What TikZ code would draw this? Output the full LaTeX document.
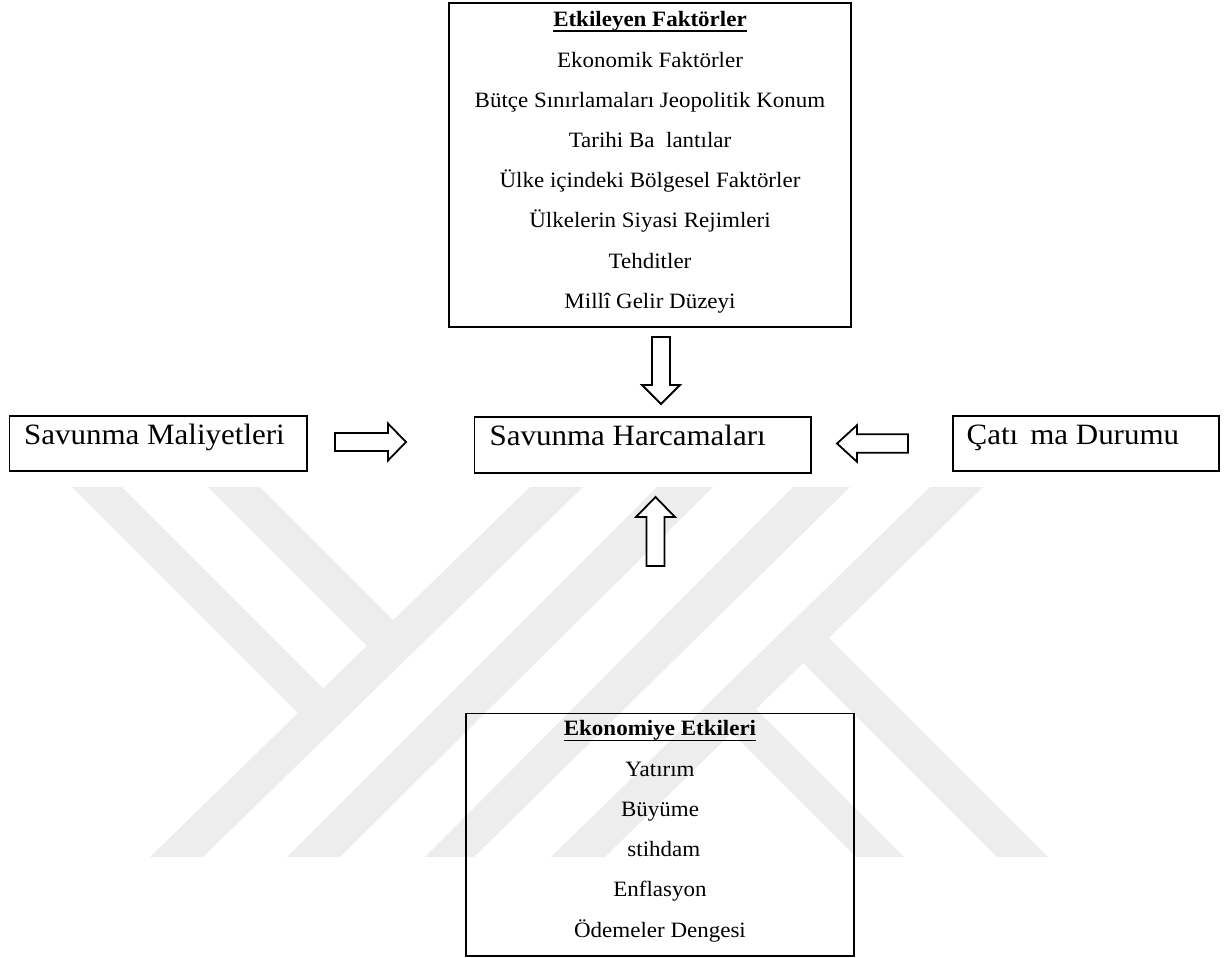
\documentclass[tikz,border=0pt]{standalone}
\usepackage{fontspec}
\setmainfont[FakeStretch=1.05]{Liberation Serif}
\definecolor{wm}{gray}{0.93}
\begin{document}
\begin{tikzpicture}[x=1pt,y=-1pt,
  box/.style={draw=black, line width=1.3pt, inner sep=0pt, anchor=center},
  txt/.style={inner sep=0pt, anchor=base, font=\fontsize{21.9}{26}\selectfont},
  head/.style={inner sep=0pt, anchor=base, font=\fontsize{21.9}{26}\selectfont\bfseries},
  big/.style={inner sep=0pt, anchor=base west, font=\fontsize{29.5}{34}\selectfont},
  blockarrow/.style={draw=black, line width=1.8pt, fill=white, line join=miter},
  wmark/.style={fill=wm, draw=none},
  uline/.style={line width=1.2pt}]
\useasboundingbox (0,0) rectangle (1226,958);

% watermark
\fill[wmark] (530,487) -- (583,487) -- (203,857) -- (150,857) -- cycle;
\fill[wmark] (657,487) -- (713,487) -- (340,857) -- (287,857) -- cycle;
\fill[wmark] (793,487) -- (850,487) -- (474,857) -- (425,857) -- cycle;
\fill[wmark] (930,487) -- (983,487) -- (605,857) -- (551,857) -- cycle;
\fill[wmark] (72,487) -- (122,487) -- (323.3,688.3) -- (298,713) -- cycle;
\fill[wmark] (208,487) -- (260,487) -- (393.2,620.2) -- (366.9,645.9) -- cycle;
\fill[wmark] (828.9,637.9) -- (1048,857) -- (997,857) -- (803.1,663.1) -- cycle;
\fill[wmark] (756.1,709.1) -- (904,857) -- (856,857) -- (731.8,732.8) -- cycle;

% top box
\node[box, minimum width=402pt, minimum height=324pt] (factors) at (650,165) {};
\node[head] (f0) at (650,26.5) {Etkileyen Faktörler};
\draw[uline] ([yshift=-4.6pt]f0.base west) -- ([yshift=-4.6pt]f0.base east);
\node[txt] (f1) at (650,67) {Ekonomik Faktörler};
\node[txt] (f2) at (650,107) {Bütçe Sınırlamaları Jeopolitik Konum};
\node[txt] (f3) at (650,147.3) {Tarihi Ba\phantom{ğ}lantılar};
\node[txt] (f4) at (650,187.5) {Ülke içindeki Bölgesel Faktörler};
\node[txt] (f5) at (650,227.5) {Ülkelerin Siyasi Rejimleri};
\node[txt] (f6) at (650,268) {Tehditler};
\node[txt] (f7) at (650,308.5) {Millî Gelir Düzeyi};

% middle row
\node[box, minimum width=297.6pt, minimum height=55pt] (cost) at (158.2,443.5) {};
\node[big] (costt) at (24,444.5) {Savunma Maliyetleri};
\node[box, minimum width=336.5pt, minimum height=56pt] (spend) at (642.75,445) {};
\node[big] (spendt) at (489.5,445.7) {Savunma Harcamaları};
\node[box, minimum width=266pt, minimum height=55pt] (conf) at (1086,443.5) {};
\node[big] (conft) at (966.4,444) {Çatı\phantom{ş}ma Durumu};

% bottom box
\node[box, minimum width=388pt, minimum height=242.5pt] (econ) at (660,834.75) {};
\node[head] (e0) at (660,735.5) {Ekonomiye Etkileri};
\draw[uline] ([yshift=-4.6pt]e0.base west) -- ([yshift=-4.6pt]e0.base east);
\node[txt] (e1) at (660,776) {Yatırım};
\node[txt] (e2) at (660,816) {Büyüme};
\node[txt] (e3) at (660,856.5) {\phantom{İ}stihdam};
\node[txt] (e4) at (660,896.5) {Enflasyon};
\node[txt] (e5) at (660,937) {Ödemeler Dengesi};

% block arrows
\draw[blockarrow] (335,433) -- (388,433) -- (388,423.5) -- (406,442) -- (388,460.5) -- (388,451) -- (335,451) -- cycle;
\draw[blockarrow] (908,434.2) -- (857,434.2) -- (857,425.2) -- (837,443.5) -- (857,461.8) -- (857,452.8) -- (908,452.8) -- cycle;
\draw[blockarrow] (652,337) -- (670,337) -- (670,385) -- (680,385) -- (661,404) -- (642,385) -- (652,385) -- cycle;
\draw[blockarrow] (646.5,566) -- (646.5,517) -- (636,517) -- (655.5,497) -- (675,517) -- (664.5,517) -- (664.5,566) -- cycle;
\end{tikzpicture}
\end{document}
